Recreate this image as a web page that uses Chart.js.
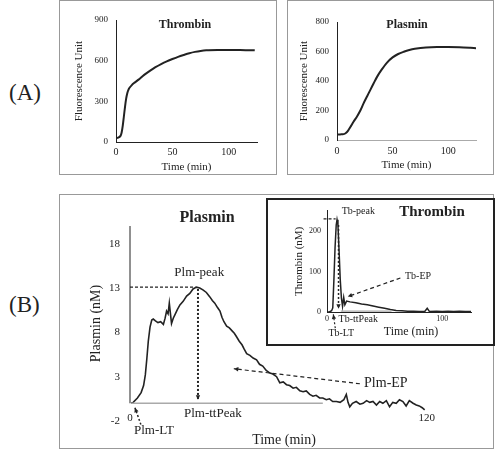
<!DOCTYPE html>
<html lang="en">
<head>
<meta charset="UTF-8">
<title>Thrombin and plasmin generation</title>
<script src="https://cdn.jsdelivr.net/npm/chart.js@4.4.1/dist/chart.umd.min.js"></script>
<style>
  body { margin: 0; background: #fff; }
  #fig { position: relative; width: 495px; height: 452px; overflow: hidden; font-family: "Liberation Serif", serif; color: #222; }
  .box { position: absolute; box-sizing: border-box; border: 1px solid #999; }
  .inset { border: 2px solid #222; background: #fff; }
  canvas { position: absolute; }
  .tag { position: absolute; font-size: 23px; line-height: 1; }
</style>
</head>
<body>
<div id="fig">
  <div class="tag" style="left:9px; top:81px">(A)</div>
  <div class="tag" style="left:9px; top:293px">(B)</div>
  <div class="box" style="left:59px; top:0; width:218px; height:175px"></div>
  <div class="box" style="left:287px; top:0; width:207px; height:175px"></div>
  <div class="box" style="left:59px; top:194px; width:435px; height:255px"></div>
  <canvas id="a1" width="216" height="173" style="left:60px; top:1px"></canvas>
  <canvas id="a2" width="205" height="173" style="left:288px; top:1px"></canvas>
  <canvas id="b" width="433" height="253" style="left:60px; top:195px"></canvas>
  <div class="box inset" style="left:266px; top:198px; width:229px; height:148px"></div>
  <canvas id="bin" width="225" height="144" style="left:268px; top:200px"></canvas>
</div>
<script>
// (A) fluorescence, thrombin substrate
const thrFluoTime = [0, 2, 4, 5, 6, 7, 8, 9, 10, 11, 12, 14, 16, 18, 20, 25, 30, 35, 40, 45, 50, 55, 60, 65, 70, 75, 80, 90, 100, 110, 120, 123];
const thrFluoUnit = [30, 32, 45, 70, 120, 190, 260, 320, 360, 385, 400, 420, 435, 447, 460, 495, 525, 552, 575, 595, 612, 628, 642, 655, 665, 672, 676, 678, 678, 678, 677, 676];
// (A) fluorescence, plasmin substrate
const plmFluoTime = [0, 3, 6, 8, 10, 12, 15, 18, 21, 24, 27, 30, 33, 36, 40, 45, 50, 55, 60, 65, 70, 80, 90, 100, 110, 120, 126];
const plmFluoUnit = [38, 38, 40, 48, 64, 88, 125, 160, 200, 250, 295, 340, 385, 428, 475, 525, 560, 583, 598, 610, 618, 627, 631, 631, 629, 625, 622];
// (B) plasmin generation (nM)
const plmTime = [0.5, 1.3, 3, 4.5, 5.5, 6.2, 6.8, 7.4, 8.1, 8.8, 9.4, 10.3, 11.3, 12.4, 13.5, 14.2, 14.8, 15.4, 15.9, 16.4, 16.8, 17.5, 18.2, 19.2, 20.2, 21.5, 22.9, 24.2, 25.5, 26.9, 28.2, 29.5, 30.9, 32.3, 33.3, 34.3, 35.4, 36.4, 37.2, 38, 39.1, 40.2, 41.2, 42.2, 43.1, 44.2, 45.3, 46.2, 47.2, 48.5, 49.8, 51.2, 52.4, 53.7, 55.1, 56.6, 57.8, 59.3, 60.6, 62, 63.3, 64.6, 66, 67.3, 68.7, 70, 71.3, 72.7, 74, 75.3, 76.7, 78, 79.4, 80.7, 82, 83.5, 85, 86.5, 87.5, 88.2, 88.9, 90, 91.5, 93, 94.3, 95.7, 97, 98.3, 99.7, 101, 102.3, 103.7, 105, 106.3, 107.7, 109, 110.4, 111.7, 113, 114.5, 115.8, 117, 118.2, 119.2];
const plmNM = [0, 0.1, 0.6, 1.2, 2, 3.2, 5, 7, 8.6, 9.4, 9.5, 9.3, 9.1, 9.2, 8.9, 9.6, 10.4, 10.1, 11.3, 10, 9, 9.6, 10, 10.6, 11.1, 11.5, 12.1, 12.4, 12.9, 13.1, 13, 12.8, 12.5, 12, 11.6, 11.3, 10.8, 10.4, 9.7, 9.2, 8.7, 8.5, 8.2, 7.9, 7.5, 7, 6.6, 6.1, 5.6, 5.4, 5.1, 4.9, 4.4, 4.2, 3.7, 3.4, 3.3, 3, 2.3, 2.4, 2.1, 2, 1.7, 1.8, 1.4, 1.3, 1.4, 1, 0.8, 0.9, 0.6, 0.6, 0.4, 0.5, 0.2, 0.2, 0.1, 0.4, 1, 0.1, -0.4, 0, 0.2, -0.1, 0, 0.3, 0.1, 0.2, -0.2, 0.2, 0, 0.3, -0.4, 0.1, 0, 0.4, 0.2, -0.3, 0.3, 0, -0.2, -0.3, -0.5, -0.75];
// (B) inset, thrombin generation (nM)
const thrTime = [0, 2, 4, 5, 6, 7, 8, 8.7, 9.5, 10.5, 11.5, 12.5, 13.5, 14.5, 15.5, 17, 20, 25, 30, 35, 40, 45, 50, 55, 60, 65, 70, 75, 80, 85, 87, 89, 95, 100, 105, 110, 115, 120, 125];
const thrNM = [0, 0, 3, 10, 80, 160, 215, 228, 215, 150, 80, 35, 14, 36, 18, 27, 25, 23, 20, 18, 15, 12, 9, 6, 4, 3, 2, 2, 1, 2, 9, 1, 2, 1, 2, 1, 2, 1, 1];

const a1YTicks = [0, 300, 600, 900];
const a2YTicks = [0, 200, 400, 600, 800];
const aXTicks = [0, 50, 100];
const bYTicks = [-2, 3, 8, 13, 18];
const bXTicks = [0, 120];
const insetYTicks = [0, 100, 200];
const insetXTicks = [0, 100];

const serif = 'Liberation Serif';
const ink = '#222';
const f = (size, bold) => (bold ? 'bold ' : '') + size + 'px "' + serif + '"';

// labels, dashed guides and arrows; "at"/"pts" in data units unless px is set
const notes = {
    a1: [{ text: 'Thrombin', at: [125, 24], px: true, font: f(12, true) }],
    a2: [{ text: 'Plasmin', at: [119, 24], px: true, font: f(12, true) }],
    b: [
        { pts: [[0, 0], [0, 20]], color: ink, width: 1 },
        { pts: [[0.5, 0], [78, 0]], color: '#aaa', width: 1.5 },
        { pts: [[0, 13.1], [26.5, 13.1]], dash: [3, 2], width: 1.2 },
        { pts: [[27.5, 12.9], [27.5, 0.4]], dash: [2, 2], width: 2, arrow: true },
        { pts: [[4.4, -2.4], [2, -0.5]], dash: [2, 2], width: 1.5, arrow: true },
        { pts: [[93, 2.2], [42, 3.9]], dash: [4, 3], width: 1.2, arrow: true },
        { text: 'Plm-peak', at: [28, 14.7], font: f(13) },
        { text: 'Plm-ttPeak', at: [33.5, -1.2], font: f(13) },
        { text: 'Plm-LT', at: [9.7, -3.1], font: f(13) },
        { text: 'Plm-EP', at: [103.5, 2.3], font: f(14) },
        { text: 'Plasmin', at: [147, 23], px: true, font: f(16, true) },
        { text: 'Time (min)', at: [224, 245], px: true, font: f(14) }
    ],
    bin: [
        { pts: [[12, 2], [56, 2]], color: '#aaa', width: 1.2 },
        { pts: [[-3, 230], [7.5, 230]], dash: [3, 2], width: 1.2 },
        { pts: [[10, 215], [10, 8]], dash: [2, 2], width: 1.5, arrow: true },
        { pts: [[7.2, -40], [5.5, -6]], dash: [2, 2], width: 1.2, arrow: true },
        { pts: [[63.7, 84], [18, 38]], dash: [4, 3], width: 1.2, arrow: true },
        { text: 'Tb-peak', at: [27.2, 248], font: f(10) },
        { text: 'Tb-ttPeak', at: [27.2, -18], font: f(10) },
        { text: 'Tb-LT', at: [12.4, -54], font: f(10) },
        { text: 'Tb-EP', at: [79, 89], font: f(10) },
        { text: 'Thrombin', at: [164, 12], px: true, font: f(15, true) },
        { text: 'Time (min)', at: [143, 132], px: true, font: f(12) }
    ]
};

const notesPlugin = {
    id: 'notes',
    afterDatasetsDraw(chart) {
        const { ctx, scales: { x, y } } = chart;
        const toPx = p => [x.getPixelForValue(p[0]), y.getPixelForValue(p[1])];
        (notes[chart.canvas.id] || []).forEach(it => {
            ctx.save();
            ctx.fillStyle = it.color || ink;
            ctx.strokeStyle = it.color || ink;
            if (it.text) {
                const [X, Y] = it.px ? it.at : toPx(it.at);
                ctx.font = it.font;
                ctx.textAlign = 'center';
                ctx.textBaseline = 'middle';
                ctx.fillText(it.text, X, Y);
            } else {
                const pts = it.pts.map(toPx);
                ctx.lineWidth = it.width || 1;
                ctx.setLineDash(it.dash || []);
                ctx.beginPath();
                pts.forEach((p, i) => i ? ctx.lineTo(p[0], p[1]) : ctx.moveTo(p[0], p[1]));
                ctx.stroke();
                if (it.arrow) {
                    const [p0, p1] = pts.slice(-2);
                    const a = Math.atan2(p1[1] - p0[1], p1[0] - p0[0]);
                    const s = 5;
                    ctx.setLineDash([]);
                    ctx.beginPath();
                    ctx.moveTo(p1[0], p1[1]);
                    ctx.lineTo(p1[0] - s * Math.cos(a - 0.45), p1[1] - s * Math.sin(a - 0.45));
                    ctx.lineTo(p1[0] - s * Math.cos(a + 0.45), p1[1] - s * Math.sin(a + 0.45));
                    ctx.closePath();
                    ctx.fill();
                }
            }
            ctx.restore();
        });
    }
};

function axis(o) {
    return {
        type: 'linear',
        position: o.position,
        min: o.min,
        max: o.max,
        afterBuildTicks: s => { s.ticks = o.ticks.map(v => ({ value: v })); },
        afterFit: s => { if (o.size != null) { if (s.isHorizontal()) s.height = o.size; else s.width = o.size; } },
        grid: { display: false, drawTicks: false },
        border: { display: o.border !== false, color: o.borderColor || ink, width: 1 },
        ticks: { padding: o.pad, color: ink, font: { family: serif, size: o.font } },
        title: o.title
            ? { display: true, text: o.title, color: ink, font: { family: serif, size: o.titleFont }, padding: { top: o.titlePad || 0, bottom: o.titlePadB || 0 } }
            : { display: false }
    };
}

function line(times, values, width, tension) {
    return {
        data: times.map((t, i) => ({ x: t, y: values[i] })),
        borderColor: ink,
        borderWidth: width,
        pointRadius: 0,
        tension: tension,
        fill: false
    };
}

function draw(id, dataset, padding, xOpt, yOpt) {
    new Chart(document.getElementById(id), {
        type: 'line',
        data: { datasets: [dataset] },
        options: {
            responsive: false,
            animation: false,
            layout: { padding: padding },
            plugins: { legend: { display: false }, tooltip: { enabled: false } },
            scales: { x: axis(xOpt), y: axis(yOpt) }
        },
        plugins: [notesPlugin]
    });
}

draw('a1', line(thrFluoTime, thrFluoUnit, 2, 0.3),
    { left: 0, top: 19, right: 19, bottom: 0 },
    { position: 'bottom', min: 0, max: 125, ticks: aXTicks, size: 32, pad: 4, font: 10, title: 'Time (min)', titleFont: 11 },
    { position: 'left', min: 0, max: 900, ticks: a1YTicks, size: 56, pad: 8, font: 9, title: 'Fluorescence Unit', titleFont: 11, titlePad: 13 });

draw('a2', line(plmFluoTime, plmFluoUnit, 2, 0.3),
    { left: 0, top: 21, right: 17, bottom: 0 },
    { position: 'bottom', min: 0, max: 125, ticks: aXTicks, size: 34, pad: 5, font: 10, title: 'Time (min)', titleFont: 11, titlePadB: 2, borderColor: '#aaa' },
    { position: 'left', min: 0, max: 800, ticks: a2YTicks, size: 49, pad: 8, font: 9, title: 'Fluorescence Unit', titleFont: 11, titlePad: 10 });

draw('b', line(plmTime, plmNM, 1.6, 0),
    { left: 0, top: 31, right: 54, bottom: 27 },
    { position: { y: 0 }, min: 0, max: 125, ticks: bXTicks, pad: 8, font: 11, border: false },
    { position: 'left', min: -2, max: 20, ticks: bYTicks, size: 70, pad: 10, font: 11, border: false, title: 'Plasmin (nM)', titleFont: 14, titlePad: 28 });

draw('bin', line(thrTime, thrNM, 1.5, 0),
    { left: 0, top: 9, right: 22, bottom: 0 },
    { position: 'bottom', min: 0, max: 125, ticks: insetXTicks, size: 32, pad: 2, font: 8 },
    { position: 'left', min: 0, max: 250, ticks: insetYTicks, size: 59, pad: 6, font: 8, title: 'Thrombin (nM)', titleFont: 11, titlePad: 25 });
</script>
</body>
</html>
